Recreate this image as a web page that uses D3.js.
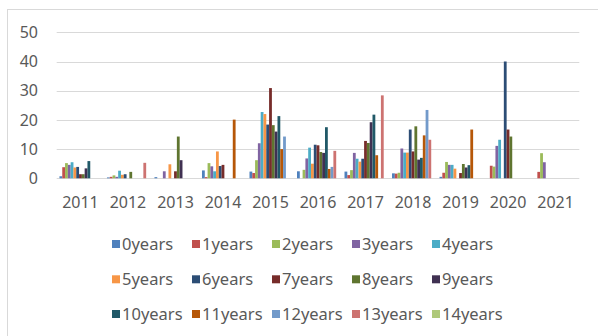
<!DOCTYPE html>
<html>
<head>
<meta charset="utf-8">
<script src="https://cdn.jsdelivr.net/npm/d3@7"></script>
<style>
  html, body { margin: 0; padding: 0; background: #fff; }
  svg { display: block; }
  text { font-family: "Noto Sans", "Open Sans", sans-serif; fill: #595959; }
</style>
</head>
<body>
<svg id="chart" width="598" height="336"></svg>
<script>
const years = ["2011","2012","2013","2014","2015","2016","2017","2018","2019","2020","2021"];
const seriesNames = ["0years","1years","2years","3years","4years","5years","6years","7years","8years","9years","10years","11years","12years","13years","14years"];
const yTicks = [0, 10, 20, 30, 40, 50];

const s0  = [0.7, 0.3, 0.4, 2.7, 2.3, 2.4, 2.3, 1.7, 0.5, 0, 0];
const s1  = [3.8, 0.5, 0, 0.4, 1.8, 0, 1.1, 1.6, 1.9, 4.3, 2.2];
const s2  = [5.2, 1.0, 0, 5.2, 6.2, 2.9, 2.8, 1.9, 5.6, 4.0, 8.6];
const s3  = [4.6, 0.5, 2.4, 4.1, 12, 6.8, 8.7, 10.2, 4.6, 11.1, 5.5];
const s4  = [5.5, 2.6, 0, 2.4, 22.7, 10.5, 6.7, 8.8, 4.6, 13.2, 0];
const s5  = [3.7, 1.2, 4.8, 9.2, 22, 5, 5.7, 8.8, 3.3, 0, 0];
const s6  = [3.9, 1.4, 0, 4.2, 18.4, 11.5, 6.7, 16.7, 0, 40, 0];
const s7  = [1.4, 0, 2.4, 4.6, 30.9, 11.3, 12.8, 9.2, 1.8, 16.7, 0];
const s8  = [1.4, 2.2, 14.3, 0, 18.2, 9, 12.1, 17.8, 4.9, 14.3, 0];
const s9  = [3.4, 0, 6.2, 0, 16, 8.7, 19.2, 6.4, 3.7, 0, 0];
const s10 = [5.9, 0, 0, 0, 21.3, 17.5, 21.8, 7, 4.5, 0, 0];
const s11 = [0, 0, 0, 20.1, 10, 3.2, 7.9, 14.7, 16.7, 0, 0];
const s12 = [0, 0, 0, 0, 14.3, 3.9, 0, 23.4, 0, 0, 0];
const s13 = [0, 5.3, 0, 0, 0, 9.4, 28.4, 13.2, 0, 0, 0];
const s14 = [0, 0, 0, 0, 0, 0, 0, 0, 0, 0, 0];
const seriesValues = [s0,s1,s2,s3,s4,s5,s6,s7,s8,s9,s10,s11,s12,s13,s14];

const colors = ["#4F81BD","#C0504D","#9BBB59","#8064A2","#4BACC6","#F79646","#2C4D75","#772C2A","#5F7530","#403152","#215968","#B65708","#729ACA","#CD7371","#AFC97A"];

const svg = d3.select("#chart");

// chart border
svg.append("rect")
  .attr("x", 7.5).attr("y", 9.5).attr("width", 620).attr("height", 360)
  .attr("fill", "none").attr("stroke", "#D9D9D9").attr("stroke-width", 1);

const plotL = 56.7, plotR = 579.3, plotTop = 32.3, plotBottom = 178.3;

const x0 = d3.scaleBand().domain(years).range([plotL, plotR])
  .paddingInner(0.116).paddingOuter(0.058);
const x1 = d3.scaleBand().domain(seriesNames).range([0, x0.bandwidth()]).padding(0);
const y = d3.scaleLinear().domain([0, 50]).range([plotBottom, plotTop]);

// gridlines
svg.append("g").selectAll("line").data(yTicks).join("line")
  .attr("x1", plotL).attr("x2", plotR)
  .attr("y1", d => Math.round(y(d)) + 0.5).attr("y2", d => Math.round(y(d)) + 0.5)
  .attr("stroke", "#D9D9D9").attr("stroke-width", 1);

// y axis labels
const yAxis = d3.axisLeft(y).tickValues(yTicks).tickSize(0).tickPadding(0);
const gy = svg.append("g").attr("transform", "translate(38,0)").call(yAxis);
gy.select(".domain").remove();
gy.selectAll("text").style("font-size", "16px").attr("fill", "#595959")
  .style("font-family", "'Noto Sans', sans-serif");

// bars
const groups = svg.append("g").selectAll("g").data(years).join("g")
  .attr("transform", d => `translate(${x0(d)},0)`);
groups.selectAll("rect")
  .data((yr, i) => seriesNames.map((s, k) => ({ s, k, v: seriesValues[k][i] })))
  .join("rect")
  .attr("x", d => x1(d.s))
  .attr("width", x1.bandwidth())
  .attr("y", d => y(d.v))
  .attr("height", d => y(0) - y(d.v))
  .attr("fill", d => colors[d.k]);

// x axis
const xAxis = d3.axisBottom(x0).tickSize(0).tickPadding(0);
const gx = svg.append("g").attr("transform", `translate(0,${plotBottom + 18})`).call(xAxis);
gx.select(".domain").remove();
gx.selectAll("text").style("font-size", "16px").attr("fill", "#595959")
  .style("font-family", "'Noto Sans', sans-serif");

// legend
const legend = svg.append("g");
const colW = 80, legX = 112, rowY = [244, 279.3, 314];
const items = legend.selectAll("g").data(seriesNames).join("g")
  .attr("transform", (d, i) => `translate(${legX + (i % 5) * colW},${rowY[Math.floor(i / 5)]})`);
items.append("rect").attr("x", 0).attr("y", -4).attr("width", 8).attr("height", 8)
  .attr("fill", (d, i) => colors[i]);
items.append("text").attr("x", 10).attr("y", 0).attr("dy", "0.36em")
  .style("font-size", "16.5px").text(d => d);
</script>
</body>
</html>
